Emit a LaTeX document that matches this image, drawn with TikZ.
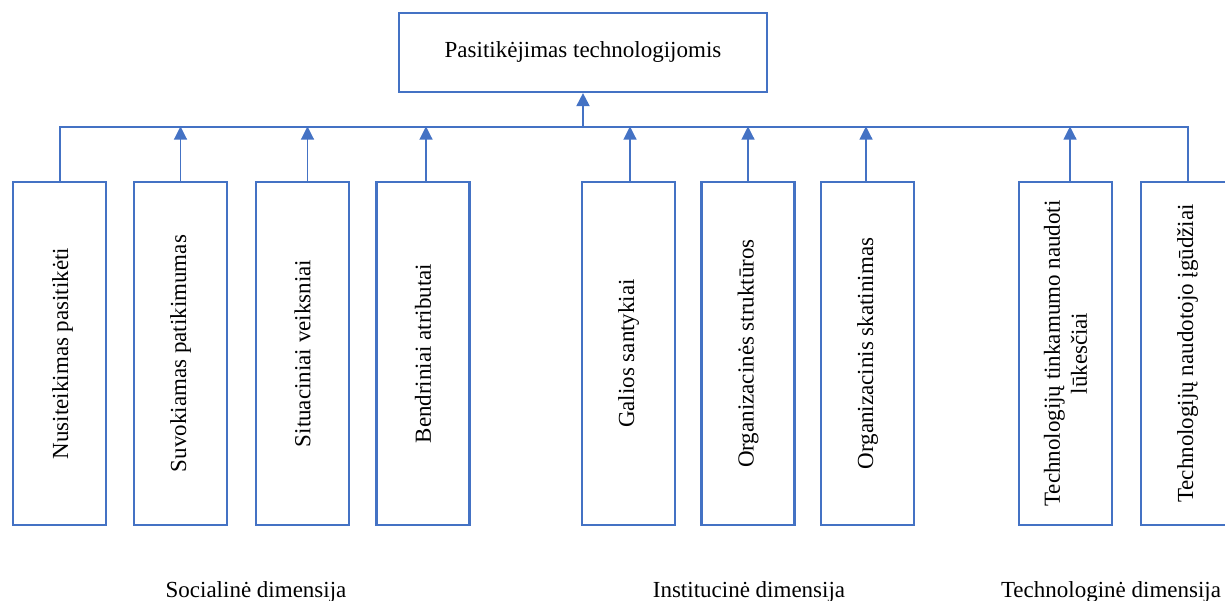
\documentclass[tikz,border=0pt]{standalone}
\usepackage{fontspec}
\setmainfont{Liberation Serif}
\usetikzlibrary{arrows.meta}
\definecolor{officeblue}{HTML}{4472C4}
\begin{document}
\begin{tikzpicture}[x=1pt,y=-1pt,
  font=\fontsize{23}{27}\selectfont,
  box/.style={draw=officeblue,line width=2.2pt,fill=white,inner sep=0pt,
    minimum width=93pt,minimum height=343pt},
  topbox/.style={draw=officeblue,line width=2.2pt,inner sep=0pt,
    minimum width=368pt,minimum height=79pt},
  vtext/.style={rotate=90,align=center,inner sep=0pt},
  bus/.style={draw=officeblue,line width=2pt},
  uparrow/.style={draw=officeblue,line width=1.1pt,
    -{Triangle[length=13pt,width=13pt]}},
  mainarrow/.style={draw=officeblue,line width=2pt,
    -{Triangle[length=13pt,width=13pt]}},
  dim/.style={anchor=base,inner sep=0pt}]
\useasboundingbox (0,0) rectangle (1225,600);
\clip (0,0) rectangle (1225,600);

% goal node
\node[topbox] (top) at (583,52.5) {Pasitikėjimas technologijomis};

% factor boxes
\node[box] (b1) at (59.5,353.5) {};
\node[box] (b2) at (180.5,353.5) {};
\node[box] (b3) at (302.5,353.5) {};
\node[box] (b4) at (423,353.5) {};
\node[box] (b5) at (628.5,353.5) {};
\node[box] (b6) at (748,353.5) {};
\node[box] (b7) at (867.5,353.5) {};
\node[box] (b8) at (1065.5,353.5) {};
\node[box] (b9) at (1187.5,353.5) {};

\node[vtext] (t1) at ([xshift=3pt]b1.center) {Nusiteikimas pasitikėti};
\node[vtext] (t2) at (b2.center) {Suvokiamas patikimumas};
\node[vtext] (t3) at (b3.center) {Situaciniai veiksniai};
\node[vtext] (t4) at (b4.center) {Bendriniai atributai};
\node[vtext] (t5) at (b5.center) {Galios santykiai};
\node[vtext] (t6) at (b6.center) {Organizacinės struktūros};
\node[vtext] (t7) at (b7.center) {Organizacinis skatinimas};
\node[vtext] (t8) at (b8.center) {Technologijų tinkamumo naudoti\\lūkesčiai};
\node[vtext] (t9) at (b9.center) {Technologijų naudotojo įgūdžiai};

% collecting line
\coordinate (busy) at (0,126.5);
\draw[bus] (b1.north) -- (b1.north |- busy) -- (b9.north |- busy) -- (b9.north);

% arrows up to the collecting line
\draw[uparrow] (b2.north) -- (b2.north |- busy);
\draw[uparrow] ([xshift=5pt]b3.north) -- ([xshift=5pt]b3.north |- busy);
\draw[uparrow] ([xshift=3pt]b4.north) -- ([xshift=3pt]b4.north |- busy);
\draw[uparrow] ([xshift=1.5pt]b5.north) -- ([xshift=1.5pt]b5.north |- busy);
\draw[uparrow] (b6.north) -- (b6.north |- busy);
\draw[uparrow] ([xshift=-1.5pt]b7.north) -- ([xshift=-1.5pt]b7.north |- busy);
\draw[uparrow] ([xshift=4.5pt]b8.north) -- ([xshift=4.5pt]b8.north |- busy);
\draw[mainarrow] (top.south |- busy) -- (top.south);

% dimension captions
\node[dim] (d1) at (256,597) {Socialinė dimensija};
\node[dim] (d2) at (749,597) {Institucinė dimensija};
\node[dim] (d3) at (1111,597) {Technologinė dimensija};
\end{tikzpicture}
\end{document}
